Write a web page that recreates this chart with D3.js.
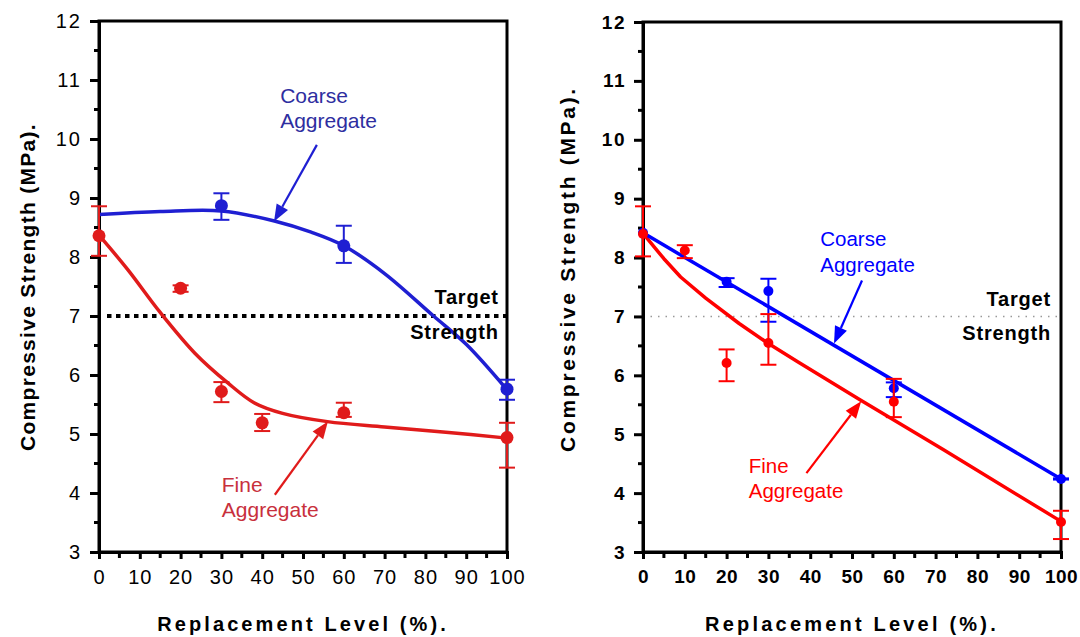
<!DOCTYPE html>
<html>
<head>
<meta charset="utf-8">
<script src="https://cdn.jsdelivr.net/npm/d3@7"></script>
<style>
  body { margin: 0; background: #fff; }
  svg { display: block; font-family: "Liberation Sans", Arial, sans-serif; }
</style>
</head>
<body>
<svg id="chart" width="1080" height="637"></svg>
<script>
// ---- data ----
// left panel: measured points (mean, error bar low/high)
const leftCoarsePts = [
  {x: 30, y: 8.87, lo: 8.63, hi: 9.08},
  {x: 60, y: 8.19, lo: 7.90, hi: 8.53},
  {x: 100, y: 5.76, lo: 5.58, hi: 5.92}
];
const leftFinePts = [
  {x: 0, y: 8.36, lo: 8.02, hi: 8.86},
  {x: 20, y: 7.47, lo: 7.41, hi: 7.52},
  {x: 30, y: 5.72, lo: 5.54, hi: 5.88},
  {x: 40, y: 5.19, lo: 5.05, hi: 5.34},
  {x: 60, y: 5.36, lo: 5.29, hi: 5.53},
  {x: 100, y: 4.94, lo: 4.43, hi: 5.19}
];
// left panel: fitted curves
const leftCoarseFit = [[0, 8.72], [15, 8.77], [30, 8.78], [43, 8.61], [52, 8.42], [60, 8.19],
  [70, 7.72], [82, 7.0], [90, 6.52], [100, 5.75]];
const leftFineFit = [[0, 8.37], [7, 7.79], [15, 7.06], [23.5, 6.37], [31.5, 5.87], [38, 5.53],
  [45, 5.35], [56, 5.21], [70, 5.12], [85, 5.03], [100, 4.93]];

// right panel: measured points
const rightCoarsePts = [
  {x: 0, y: 8.42, lo: 8.42, hi: 8.42},
  {x: 20, y: 7.59, lo: 7.50, hi: 7.65},
  {x: 30, y: 7.43, lo: 6.91, hi: 7.64},
  {x: 60, y: 5.78, lo: 5.63, hi: 5.88},
  {x: 100, y: 4.24, lo: 4.23, hi: 4.25}
];
const rightFinePts = [
  {x: 0, y: 8.40, lo: 8.02, hi: 8.87},
  {x: 10, y: 8.12, lo: 7.99, hi: 8.21},
  {x: 20, y: 6.21, lo: 5.90, hi: 6.44},
  {x: 30, y: 6.55, lo: 6.18, hi: 7.04},
  {x: 60, y: 5.55, lo: 5.29, hi: 5.94},
  {x: 100, y: 3.51, lo: 3.22, hi: 3.70}
];
// right panel: fitted lines
const rightCoarseFit = [[0, 8.42], [100, 4.24]];
const rightFineFit = [[0, 8.41], [5, 7.98], [9, 7.67], [15, 7.31], [23, 6.88], [30, 6.54],
  [37, 6.23], [52, 5.58], [60, 5.24], [72, 4.73], [100, 3.52]];

const targetStrength = 7;
const xTicks = [0, 10, 20, 30, 40, 50, 60, 70, 80, 90, 100];
const yTicks = [3, 4, 5, 6, 7, 8, 9, 10, 11, 12];

// annotation arrows: [fromX, fromY, tipX, tipY] in data units
const leftCoarseArrow = [53.4, 9.9, 42.9, 8.6];
const leftFineArrow = [43.1, 3.97, 56.1, 5.21];
const rightCoarseArrow = [52.4, 7.61, 45.7, 6.54];
const rightFineArrow = [39.1, 4.34, 52.2, 5.56];

const svg = d3.select("#chart");

function drawPanel(cfg) {
  const x = d3.scaleLinear().domain([0, 100]).range([cfg.left, cfg.right]);
  const y = d3.scaleLinear().domain([3, 12]).range([cfg.bottom, cfg.top]);
  const g = svg.append("g");

  // frame (top/right)
  g.append("rect")
    .attr("x", cfg.left).attr("y", cfg.top)
    .attr("width", cfg.right - cfg.left).attr("height", cfg.bottom - cfg.top)
    .attr("fill", "none").attr("stroke", "#000").attr("stroke-width", 3);

  // target line
  g.append("line")
    .attr("x1", cfg.targetFrom).attr("x2", cfg.right)
    .attr("y1", y(targetStrength)).attr("y2", y(targetStrength))
    .attr("stroke", cfg.targetColor).attr("stroke-width", cfg.targetWidth)
    .attr("stroke-dasharray", cfg.targetDash);

  // axes
  const yAxis = d3.axisLeft(y).tickValues(yTicks).tickSize(9).tickPadding(8).tickFormat(d3.format("d"));
  const xAxis = d3.axisBottom(x).tickValues(xTicks).tickSize(7).tickPadding(11).tickFormat(d3.format("d"));
  const ya = g.append("g").attr("transform", `translate(${cfg.left},0)`).call(yAxis);
  const xa = g.append("g").attr("transform", `translate(0,${cfg.bottom})`).call(xAxis);
  [ya, xa].forEach(a => {
    a.select(".domain").attr("stroke-width", 3);
    a.selectAll(".tick line").attr("stroke-width", 3);
    a.selectAll("text")
      .attr("font-weight", cfg.tickWeight)
      .attr("fill", "#000")
      .attr("font-family", "Liberation Sans, Arial, sans-serif");
  });
  ya.selectAll("text").attr("font-size", cfg.yTickSize).attr("letter-spacing", cfg.yTickSpacing);
  xa.selectAll("text").attr("font-size", cfg.xTickSize).attr("letter-spacing", cfg.xTickSpacing);
  // minor ticks
  g.append("g").selectAll("line").data(d3.range(3.5, 12, 1)).join("line")
    .attr("x1", cfg.left - 5).attr("x2", cfg.left)
    .attr("y1", d => y(d)).attr("y2", d => y(d))
    .attr("stroke", "#000").attr("stroke-width", 3);
  g.append("g").selectAll("line").data(d3.range(5, 100, 10)).join("line")
    .attr("x1", d => x(d)).attr("x2", d => x(d))
    .attr("y1", cfg.bottom).attr("y2", cfg.bottom + 6)
    .attr("stroke", "#000").attr("stroke-width", 3);

  // axis titles
  g.append("text")
    .attr("x", (cfg.left + cfg.right) / 2).attr("y", 631)
    .attr("text-anchor", "middle")
    .attr("font-size", 20).attr("font-weight", "bold")
    .attr("letter-spacing", cfg.xTitleSpacing)
    .text("Replacement Level (%).");
  g.append("text")
    .attr("transform", `translate(${cfg.yTitleX},${cfg.yTitleY}) rotate(-90)`)
    .attr("text-anchor", "middle")
    .attr("font-size", 21).attr("font-weight", "bold")
    .attr("letter-spacing", cfg.yTitleSpacing)
    .text("Compressive Strength (MPa).");

  // fits
  const line = d3.line().x(d => x(d[0])).y(d => y(d[1])).curve(cfg.curve);
  g.append("path").datum(cfg.fineFit)
    .attr("d", line).attr("fill", "none")
    .attr("stroke", cfg.red).attr("stroke-width", 3.5).attr("stroke-linejoin", "round");
  g.append("path").datum(cfg.coarseFit)
    .attr("d", line).attr("fill", "none")
    .attr("stroke", cfg.blue).attr("stroke-width", 3.5).attr("stroke-linejoin", "round");

  // points with error bars
  function series(pts, color) {
    const s = g.append("g").attr("stroke", color).attr("fill", color);
    const withErr = pts.filter(d => d.hi > d.y || d.lo < d.y);
    s.selectAll("line.v").data(withErr).join("line").attr("class", "v")
      .attr("x1", d => x(d.x)).attr("x2", d => x(d.x))
      .attr("y1", d => y(d.lo)).attr("y2", d => y(d.hi)).attr("stroke-width", 2);
    s.selectAll("line.hi").data(withErr).join("line").attr("class", "hi")
      .attr("x1", d => x(d.x) - cfg.cap).attr("x2", d => x(d.x) + cfg.cap)
      .attr("y1", d => y(d.hi)).attr("y2", d => y(d.hi)).attr("stroke-width", 2);
    s.selectAll("line.lo").data(withErr).join("line").attr("class", "lo")
      .attr("x1", d => x(d.x) - cfg.cap).attr("x2", d => x(d.x) + cfg.cap)
      .attr("y1", d => y(d.lo)).attr("y2", d => y(d.lo)).attr("stroke-width", 2);
    s.selectAll("circle").data(pts).join("circle")
      .attr("cx", d => x(d.x)).attr("cy", d => y(d.y)).attr("r", cfg.r).attr("stroke", "none");
  }
  series(cfg.coarsePts, cfg.blue);
  series(cfg.finePts, cfg.red);

  // arrows
  function arrow(a, color) {
    const x1 = x(a[0]), y1 = y(a[1]), x2 = x(a[2]), y2 = y(a[3]);
    const ang = Math.atan2(y2 - y1, x2 - x1);
    const len = 17, half = 6.5;
    const bx = x2 - len * Math.cos(ang), by = y2 - len * Math.sin(ang);
    g.append("line").attr("x1", x1).attr("y1", y1).attr("x2", bx).attr("y2", by)
      .attr("stroke", color).attr("stroke-width", 2.2);
    g.append("path")
      .attr("d", `M${x2},${y2}L${bx - half * Math.sin(ang)},${by + half * Math.cos(ang)}L${bx + half * Math.sin(ang)},${by - half * Math.cos(ang)}Z`)
      .attr("fill", color);
  }
  arrow(cfg.coarseArrow, cfg.blue);
  arrow(cfg.fineArrow, cfg.red);

  // labels
  function label(lines, lx, ly1, ly2, color, size, anchor, weight, spacing) {
    [ly1, ly2].forEach((ly, i) => {
      g.append("text").attr("x", x(lx)).attr("y", y(ly)).attr("fill", color)
        .attr("font-size", size).attr("text-anchor", anchor).attr("font-weight", weight)
        .attr("letter-spacing", spacing).text(lines[i]);
    });
  }
  label(["Coarse", "Aggregate"], cfg.coarseLabel[0], cfg.coarseLabel[1], cfg.coarseLabel[2], cfg.blueText, cfg.labelSize, "start", "normal", 0);
  label(["Fine", "Aggregate"], cfg.fineLabel[0], cfg.fineLabel[1], cfg.fineLabel[2], cfg.redText, cfg.labelSize, "start", "normal", 0);
  label(["Target", "Strength"], cfg.targetLabel[0], cfg.targetLabel[1], cfg.targetLabel[2], "#000", 20, "end", "bold", 0.8);
}

drawPanel({
  left: 99, right: 507, top: 21, bottom: 552,
  blue: "#1f1fd2", red: "#e01b1b", blueText: "#2e2ea0", redText: "#c8303c",
  tickWeight: "normal", curve: d3.curveCatmullRom.alpha(0.5),
  yTickSize: 20, yTickSpacing: 2, xTickSize: 20, xTickSpacing: 1,
  coarsePts: leftCoarsePts, finePts: leftFinePts,
  coarseFit: leftCoarseFit, fineFit: leftFineFit,
  coarseArrow: leftCoarseArrow, fineArrow: leftFineArrow,
  coarseLabel: [44.4, 10.61, 10.18], fineLabel: [30.1, 4.02, 3.6],
  targetLabel: [98, 7.2, 6.61], labelSize: 21,
  targetFrom: 107, targetColor: "#000", targetWidth: 4, targetDash: "4.5,4.5",
  r: 6.5, cap: 8,
  yTitleX: 35, yTitleY: 287, yTitleSpacing: 1.3, xTitleSpacing: 3.1
});

drawPanel({
  left: 643, right: 1061, top: 22, bottom: 552,
  blue: "#0000ff", red: "#ff0000", blueText: "#0000ff", redText: "#ff0000",
  tickWeight: "bold", curve: d3.curveLinear,
  yTickSize: 19, yTickSpacing: 1.5, xTickSize: 19, xTickSpacing: 0.5,
  coarsePts: rightCoarsePts, finePts: rightFinePts,
  coarseFit: rightCoarseFit, fineFit: rightFineFit,
  coarseArrow: rightCoarseArrow, fineArrow: rightFineArrow,
  coarseLabel: [42.4, 8.19, 7.76], fineLabel: [25.3, 4.35, 3.91],
  targetLabel: [97.6, 7.18, 6.6], labelSize: 20.5,
  targetFrom: 643, targetColor: "#999", targetWidth: 1.5, targetDash: "1.5,6",
  r: 5, cap: 8,
  yTitleX: 575, yTitleY: 269, yTitleSpacing: 2.7, xTitleSpacing: 3.2
});
</script>
</body>
</html>
